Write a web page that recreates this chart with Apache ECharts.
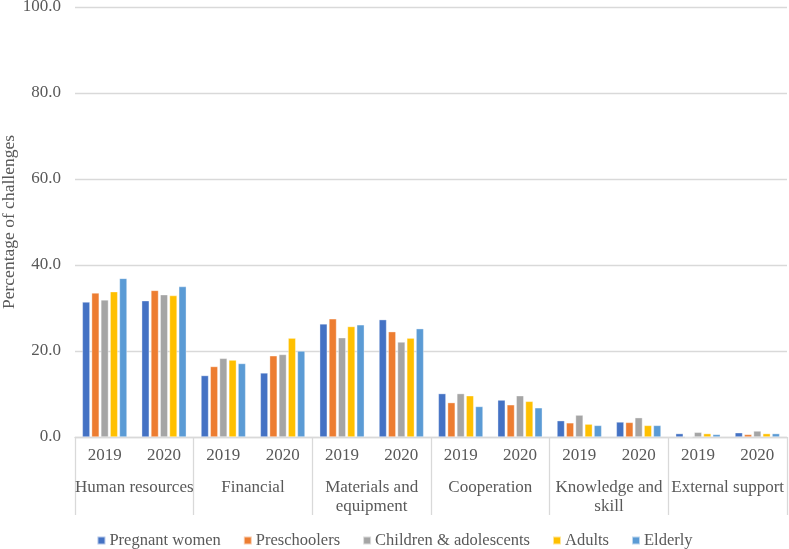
<!DOCTYPE html>
<html>
<head>
<meta charset="utf-8">
<script src="https://cdn.jsdelivr.net/npm/echarts@6/dist/echarts.min.js"></script>
<style>html,body{margin:0;padding:0;background:#fff}#c{width:789px;height:549px}</style>
</head>
<body>
<div id="c"></div>
<script>
const years = ['2019','2020','2019','2020','2019','2020','2019','2020','2019','2020','2019','2020'];
const groups = ['Human resources','Financial','Materials and\nequipment','Cooperation','Knowledge and\nskill','External support'];
const seriesNames = ['Pregnant women','Preschoolers','Children & adolescents','Adults','Elderly'];
const pregnantWomen = [31.4,31.7,14.3,14.9,26.3,27.3,10.1,8.6,3.8,3.5,0.8,1.0];
const preschoolers  = [33.5,34.1,16.4,18.9,27.5,24.5,8.0,7.5,3.3,3.4,0.0,0.6];
const children      = [31.9,33.1,18.3,19.2,23.1,22.1,10.1,9.6,5.1,4.5,1.1,1.4];
const adults        = [33.8,32.9,17.9,23.0,25.7,23.0,9.6,8.3,3.0,2.7,0.8,0.8];
const elderly       = [36.9,35.0,17.1,20.0,26.1,25.2,7.1,6.8,2.7,2.7,0.6,0.8];
const colors = ['#4472C4','#ED7D31','#A5A5A5','#FFC000','#5B9BD5'];
const allData = [pregnantWomen, preschoolers, children, adults, elderly];

const font = 'Liberation Serif';
const txt = '#595959';
const chart = echarts.init(document.getElementById('c'));
chart.setOption({
  animation: false,
  textStyle: {fontFamily: font},
  grid: {left: 75, right: 2, top: 7, bottom: 112, containLabel: false, outerBoundsMode: 'none'},
  legend: {
    top: 527, left: 'center',
    itemWidth: 8, itemHeight: 8, itemGap: 22,
    icon: 'rect',
    textStyle: {fontFamily: font, fontSize: 16.5, color: txt, padding: [0,0,0,-1]},
    data: seriesNames
  },
  xAxis: [
    {
      type: 'category', data: years, position: 'bottom',
      axisLine: {lineStyle: {color: '#d9d9d9', width: 1.3}},
      axisTick: {show: false},
      axisLabel: {fontFamily: font, fontSize: 17, color: txt, margin: 10, interval: 0}
    },
    {
      type: 'category', data: groups, position: 'bottom',
      axisLine: {show: false},
      axisTick: {show: true, length: 78, interval: 0, lineStyle: {color: '#d9d9d9', width: 1.3}},
      axisLabel: {fontFamily: font, fontSize: 17, color: txt, margin: 41, lineHeight: 19, interval: 0}
    }
  ],
  yAxis: {
    type: 'value', min: 0, max: 100, interval: 20,
    name: 'Percentage of challenges', nameLocation: 'middle', nameGap: 57, nameMoveOverlap: false,
    nameTextStyle: {fontFamily: font, fontSize: 17.5, color: txt},
    axisLine: {show: false}, axisTick: {show: false},
    axisLabel: {fontFamily: font, fontSize: 17, color: txt, margin: 14, formatter: v => v.toFixed(1)},
    splitLine: {lineStyle: {color: '#d9d9d9', width: 1.3}}
  },
  series: seriesNames.map((n, i) => ({
    name: n, type: 'bar', xAxisIndex: 0, data: allData[i],
    barWidth: 7.6, barGap: '22%',
    itemStyle: {color: colors[i], borderColor: 'rgba(255,255,255,0.6)', borderWidth: 0.6}
  }))
});
</script>
</body>
</html>
